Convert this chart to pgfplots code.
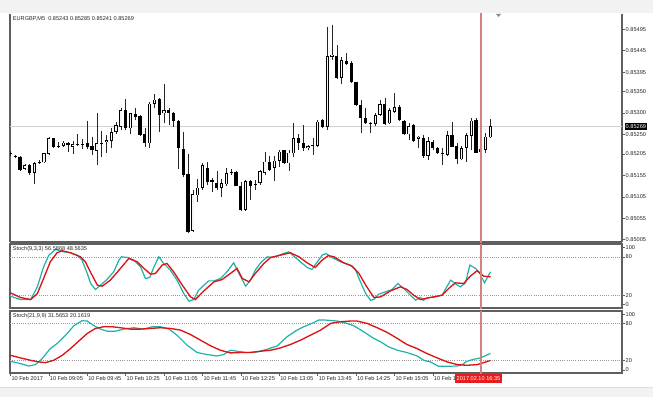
\documentclass[border=0pt]{standalone}
\usepackage{fontspec}
\setmainfont{Liberation Sans}
\usepackage{pgfplots}
\usepackage{pgfplotstable}
\pgfplotsset{compat=1.18}
\definecolor{stK}{RGB}{32,178,170}
\definecolor{stD}{RGB}{220,20,20}
\definecolor{vline}{RGB}{210,130,130}
\definecolor{frame}{RGB}{95,95,95}
\definecolor{tbox}{RGB}{232,28,28}

\pgfplotstableread{
i O H L C
0 0.85205 0.85212 0.85199 0.85207
1 0.85198 0.85202 0.85195 0.85200
2 0.85198 0.85200 0.85165 0.85167
3 0.85170 0.85181 0.85167 0.85178
4 0.85178 0.85181 0.85156 0.85160
5 0.85161 0.85185 0.85134 0.85183
6 0.85183 0.85191 0.85181 0.85185
7 0.85185 0.85208 0.85183 0.85206
8 0.85205 0.85245 0.85202 0.85242
9 0.85241 0.85242 0.85219 0.85222
10 0.85222 0.85233 0.85219 0.85224
11 0.85223 0.85235 0.85222 0.85231
12 0.85231 0.85233 0.85210 0.85225
13 0.85222 0.85235 0.85204 0.85228
14 0.85228 0.85250 0.85223 0.85226
15 0.85226 0.85239 0.85216 0.85228
16 0.85230 0.85282 0.85216 0.85222
17 0.85224 0.85245 0.85202 0.85213
18 0.85212 0.85299 0.85178 0.85229
19 0.85229 0.85258 0.85198 0.85231
20 0.85232 0.85249 0.85208 0.85237
21 0.85235 0.85264 0.85218 0.85256
22 0.85256 0.85280 0.85252 0.85272
23 0.85268 0.85311 0.85260 0.85307
24 0.85307 0.85332 0.85260 0.85264
25 0.85264 0.85300 0.85252 0.85299
26 0.85297 0.85312 0.85283 0.85290
27 0.85294 0.85295 0.85247 0.85249
28 0.85250 0.85264 0.85222 0.85231
29 0.85229 0.85326 0.85219 0.85322
30 0.85322 0.85343 0.85311 0.85331
31 0.85332 0.85334 0.85256 0.85295
32 0.85299 0.85367 0.85276 0.85307
33 0.85308 0.85311 0.85272 0.85300
34 0.85300 0.85303 0.85268 0.85281
35 0.85281 0.85283 0.85169 0.85219
36 0.85216 0.85255 0.85152 0.85156
37 0.85157 0.85204 0.85020 0.85024
38 0.85026 0.85121 0.85023 0.85111
39 0.85108 0.85146 0.85094 0.85126
40 0.85125 0.85183 0.85121 0.85178
41 0.85173 0.85187 0.85133 0.85140
42 0.85140 0.85148 0.85117 0.85143
43 0.85136 0.85166 0.85121 0.85125
44 0.85125 0.85146 0.85105 0.85136
45 0.85134 0.85171 0.85131 0.85160
46 0.85160 0.85169 0.85156 0.85162
47 0.85163 0.85166 0.85129 0.85130
48 0.85130 0.85140 0.85071 0.85074
49 0.85074 0.85144 0.85072 0.85142
50 0.85141 0.85144 0.85098 0.85131
51 0.85132 0.85144 0.85121 0.85135
52 0.85137 0.85168 0.85133 0.85164
53 0.85160 0.85210 0.85156 0.85187
54 0.85187 0.85199 0.85164 0.85168
55 0.85172 0.85199 0.85141 0.85189
56 0.85189 0.85214 0.85175 0.85210
57 0.85213 0.85214 0.85182 0.85183
58 0.85183 0.85213 0.85166 0.85208
59 0.85206 0.85276 0.85197 0.85241
60 0.85241 0.85250 0.85214 0.85230
61 0.85230 0.85272 0.85212 0.85218
62 0.85218 0.85226 0.85214 0.85223
63 0.85223 0.85241 0.85202 0.85225
64 0.85223 0.85284 0.85222 0.85280
65 0.85284 0.85285 0.85264 0.85267
66 0.85267 0.85500 0.85261 0.85432
67 0.85430 0.85504 0.85423 0.85436
68 0.85432 0.85458 0.85378 0.85381
69 0.85381 0.85431 0.85367 0.85423
70 0.85422 0.85439 0.85412 0.85415
71 0.85417 0.85422 0.85369 0.85371
72 0.85371 0.85373 0.85316 0.85319
73 0.85319 0.85330 0.85253 0.85289
74 0.85289 0.85311 0.85274 0.85276
75 0.85276 0.85280 0.85254 0.85274
76 0.85274 0.85299 0.85270 0.85295
77 0.85295 0.85330 0.85294 0.85321
78 0.85322 0.85334 0.85272 0.85274
79 0.85276 0.85312 0.85274 0.85307
80 0.85303 0.85347 0.85301 0.85313
81 0.85315 0.85319 0.85282 0.85284
82 0.85282 0.85284 0.85249 0.85250
83 0.85250 0.85276 0.85237 0.85270
84 0.85272 0.85274 0.85233 0.85235
85 0.85240 0.85247 0.85218 0.85245
86 0.85241 0.85249 0.85195 0.85200
87 0.85200 0.85245 0.85191 0.85235
88 0.85233 0.85237 0.85214 0.85218
89 0.85218 0.85222 0.85205 0.85206
90 0.85206 0.85218 0.85179 0.85208
91 0.85202 0.85257 0.85199 0.85249
92 0.85249 0.85278 0.85220 0.85222
93 0.85223 0.85230 0.85182 0.85192
94 0.85192 0.85223 0.85191 0.85218
95 0.85218 0.85254 0.85187 0.85249
96 0.85247 0.85288 0.85213 0.85282
97 0.85284 0.85288 0.85206 0.85208
98 0.85210 0.85218 0.85195 0.85216
99 0.85214 0.85253 0.85206 0.85245
100 0.85243 0.85285 0.85241 0.85269
}\candles

\pgfplotsset{
  panel/.style={
    scale only axis, width=459pt, xmin=-0.1, xmax=127.4,
    axis line style={draw=frame, line width=0.8pt},
    tick style={draw=frame, line width=0.4pt},
    ytick pos=right, yticklabel pos=right,
    tick align=outside, major tick length=2pt,
    ticklabel style={font=\fontsize{4.2}{5}\selectfont, text=black!85},
    yticklabel style={anchor=west, inner sep=0.6pt},
    clip=true,
  },
}
\tikzset{
  lvl/.style={black!40, dash pattern=on 0.75pt off 0.9pt, line width=0.35pt},
  lab/.style={font=\fontsize{4.2}{5}\selectfont, text=black!85, inner sep=0pt, anchor=north west},
}

\begin{document}
\begin{tikzpicture}
\useasboundingbox (0,0) rectangle (489.75pt,297.75pt);
\fill[white] (0,0) rectangle (489.75pt,297.75pt);
\fill[black!5] (0,288pt) rectangle (489.75pt,297.75pt);
\fill[black!5] (0,0) rectangle (489.75pt,7.5pt);
\draw[black!12, line width=0.4pt] (0,7.5pt) -- (489.75pt,7.5pt);

% ---------------- main price panel
\begin{axis}[panel, at={(7.5pt,116.25pt)}, anchor=south west, height=171pt,
  axis x line*=bottom, axis y line*=box,
  ymin=0.849998, ymax=0.855303, xtick=\empty,
  ytick={0.85005,0.85055,0.85105,0.85155,0.85205,0.85250,0.85300,0.85350,0.85395,0.85445,0.85495},
  yticklabels={0.85005,0.85055,0.85105,0.85155,0.85205,0.85250,0.85300,0.85350,0.85395,0.85445,0.85495}]
\addplot[black!18, line width=0.5pt] coordinates {(-1,0.85269) (130,0.85269)};
% wicks
\addplot[draw=none, mark=none, error bars/.cd, y dir=plus, y explicit, error mark=none,
  error bar style={draw=black!85, line width=0.55pt}]
  table[x=i, y=L, y error plus expr={\thisrow{H}-\thisrow{L}}] {\candles};
% bodies
\addplot[draw=none, mark=none, error bars/.cd, y dir=plus, y explicit, error mark=none,
  error bar style={draw=black, line width=2.4pt}]
  table[x=i, y expr={min(\thisrow{O},\thisrow{C})}, y error plus expr={abs(\thisrow{C}-\thisrow{O})}] {\candles};
% hollow interior of rising candles
\addplot[draw=none, mark=none, error bars/.cd, y dir=plus, y explicit, error mark=none,
  error bar style={draw=black!4, line width=1.15pt}]
  table[x=i, y expr={(\thisrow{C}-\thisrow{O}>0.00004) ? (\thisrow{O}+0.000017) : 0.9},
    y error plus expr={(\thisrow{C}-\thisrow{O}>0.00004) ? (\thisrow{C}-\thisrow{O}-0.000034) : 0}] {\candles};
\addplot[vline, line width=1.1pt] coordinates {(98,0.849) (98,0.856)};
\node[lab] at ([xshift=2pt,yshift=-2pt]rel axis cs:0,1) {EURGBP,M5\ \ 0.85243 0.85285 0.85241 0.85269};
\coordinate (bid) at (axis cs:127.4,0.85269);
\end{axis}
\node[fill=black, text=white, font=\fontsize{4.2}{5}\selectfont, inner xsep=0.8pt, inner ysep=1pt, anchor=west] at ([xshift=1.8pt]bid) {0.85269};
\fill[black!45] (372pt,287.25pt) -- (375.75pt,287.25pt) -- (373.9pt,285pt) -- cycle;

% ---------------- Stoch(9,3,3)
\begin{axis}[panel, at={(7.5pt,66.75pt)}, anchor=south west, height=48pt,
  ymin=0, ymax=100, xtick=\empty,
  ytick={5.5,20,80,95}, yticklabels={0,20,80,100}]
\addplot[lvl] coordinates {(-1,80) (130,80)};
\addplot[lvl] coordinates {(-1,20) (130,20)};
\addplot[stK, line width=0.9pt] coordinates {
(0,18.4) (2.1,13.2) (4.2,13.2) (5.6,33.1) (6.9,64.4) (8.0,82.6) (9.4,91.5) (11.1,87.8) (12.5,86.3) (13.9,82.6) (14.9,74.8) (16.0,53.9) (16.7,38.3) (17.7,28.9) (18.75,35.7) (20.1,44.5) (21.5,56.5) (22.6,74.8) (23.1,80) (24.3,79) (25.7,74.8) (27.1,64.4) (28.1,46.1) (29.0,47.7) (29.9,64.4) (30.9,80) (31.9,69.6) (33.3,59.1) (34.7,43.5) (36.1,22.6) (37.2,10.6) (38.2,13.2) (39.2,27.8) (40.3,35.7) (41.3,42.4) (42.4,42.4) (43.75,46.1) (45.1,56.5) (46.5,70.6) (47.6,53.9) (49.0,34.1) (50.0,43.5) (51.0,59.1) (52.1,70.6) (53.5,80) (54.5,79) (55.6,81.1) (56.9,85.2) (58.0,87.8) (59.0,81.1) (60.4,72.2) (61.8,63.3) (62.8,60.2) (63.9,72) (65.0,83) (65.8,85) (66.7,80) (68.75,72.2) (70.8,67) (71.9,59.1) (72.9,40.9) (74.0,22.6) (75.0,12.2) (75.7,13.2) (76.7,21.6) (78.1,25.2) (79.5,28.9) (80.7,38.3) (81.9,30.5) (83.3,20) (84.4,12.2) (85.4,16.5) (86.0,12) (86.8,16) (88.5,17.4) (89.9,20) (91.7,43.5) (93.1,35.7) (93.75,33.1) (94.8,39.3) (95.7,67) (96.9,61.8) (97.6,56.5) (98.75,39.3) (100,56.6)};
\addplot[stD, line width=1pt] coordinates {
(0,23.7) (2.1,16.4) (4.2,13.2) (5.6,22.6) (6.9,46.1) (8.3,72.2) (9.7,86.3) (10.8,89.4) (12.5,86.3) (14.6,80) (15.6,72.2) (17.0,51.3) (18.1,35.7) (19.1,34.1) (20.8,43.5) (22.6,59.1) (24.65,77.4) (26.4,72.2) (27.8,61.8) (29.2,52.9) (30.2,53.9) (31.6,67) (32.6,69.6) (34.0,56.5) (35.8,35.7) (37.5,17.4) (38.5,13.2) (40.3,26.8) (42.4,40.9) (44.1,44.5) (45.8,53.9) (47.2,61.8) (48.3,46.1) (49.7,40.9) (51.0,53.9) (52.8,69.6) (54.2,79) (56.25,82.6) (58.3,86.3) (60.1,80) (61.8,70.6) (63.5,63.3) (64.8,74) (66.2,82) (67.4,80) (69.4,70.6) (71.2,65.4) (72.6,53.9) (74.0,35.7) (75.7,16.4) (77.1,17.4) (79.2,26.8) (81.25,33.1) (82.6,28.9) (84.0,20) (85.4,13.2) (87.5,16.4) (89.9,20) (91.3,30.5) (92.7,39.3) (94.4,38.3) (95.8,49.8) (97.2,58.1) (98.6,49.8) (100,48.6)};
\addplot[vline, line width=1.1pt] coordinates {(98,-10) (98,110)};
\node[lab] at ([xshift=2pt,yshift=-1.5pt]rel axis cs:0,1) {Stoch(9,3,3) 56.5868 48.5635};
\end{axis}

% ---------------- Stoch(21,9,9)
\begin{axis}[panel, at={(7.5pt,18pt)}, anchor=south west, height=46.5pt,
  ymin=0, ymax=100,
  ytick={5,20,80,95}, yticklabels={0,20,80,100},
  xtick pos=bottom, xtick={0,8,16,24,32,40,48,56,64,72,80,88},
  xticklabels={10 Feb 2017,10 Feb 09:05,10 Feb 09:45,10 Feb 10:25,10 Feb 11:05,10 Feb 11:45,10 Feb 12:25,10 Feb 13:05,10 Feb 13:45,10 Feb 14:25,10 Feb 15:05,10 Feb 15:45},
  xticklabel style={anchor=north west, inner sep=0.6pt}]
\addplot[lvl] coordinates {(-1,80) (130,80)};
\addplot[lvl] coordinates {(-1,20) (130,20)};
\addplot[stK, line width=0.9pt] coordinates {
(0,18.9) (2.1,15.1) (3.8,11.3) (5.2,13.5) (6.6,23.2) (8.3,39.4) (9.7,47.5) (11.5,61) (13.2,76.2) (14.9,84.3) (16.0,83.8) (17.4,76.2) (18.75,70.8) (20.1,67.5) (21.9,67.5) (23.6,70.8) (25.7,73) (27.8,70.8) (29.5,74.6) (31.25,74.6) (33.0,70.8) (34.7,61) (36.8,44.8) (38.9,33) (41.0,29.7) (43.1,27.5) (44.4,29.7) (45.8,36.7) (47.2,35.1) (49.3,33) (51.4,34.1) (53.5,38.4) (55.6,43.8) (57.6,58.4) (59.7,69.2) (61.1,74.6) (62.8,80) (64.2,85.4) (65.6,85.4) (68.1,83.8) (70.1,80) (71.5,76.2) (73.6,66.5) (75.7,55.7) (77.1,50.3) (78.8,42.1) (80.6,36.7) (82.6,33) (84.7,27.5) (86.1,20.5) (87.5,17.8) (89.2,10.8) (91.0,10.8) (93.1,11.3) (94.1,13.5) (95.1,18.9) (96.5,22.1) (97.9,24.3) (100,31.6)};
\addplot[stD, line width=1pt] coordinates {
(0,28.6) (2.1,24.3) (4.2,20.5) (5.9,17.8) (7.3,16.7) (9.0,20.5) (10.8,28.6) (12.5,39.4) (14.2,51.3) (16.0,63.8) (17.7,71.9) (19.4,74.6) (21.2,74.6) (22.9,73) (25.0,70.8) (27.1,70.8) (29.2,71.9) (31.25,73) (33.3,71.9) (35.4,69.2) (37.5,62.1) (39.6,52.9) (41.7,43.8) (43.75,36.7) (45.8,32.4) (47.9,33) (50.0,33) (52.1,35.1) (54.2,36.7) (56.25,40.5) (58.3,45.9) (60.4,52.9) (62.5,61) (64.6,69.2) (66.7,80) (68.75,82.7) (70.8,83.8) (72.2,83.8) (74.3,80) (76.4,73) (78.5,65.4) (80.6,55.7) (82.6,45.9) (84.7,39.4) (86.8,31.3) (88.9,24.3) (91.0,17.8) (93.1,13.5) (95.1,12.4) (97.2,13.5) (98.6,16.7) (100,20.2)};
\addplot[vline, line width=1.1pt] coordinates {(98,-10) (98,110)};
\node[lab] at ([xshift=2pt,yshift=-1.5pt]rel axis cs:0,1) {Stoch(21,9,9) 31.5653 20.1619};
\coordinate (tb) at (axis cs:98,0);
\end{axis}
\node[fill=tbox, text=white, font=\fontsize{4.2}{5}\selectfont, inner xsep=1.2pt, inner ysep=0pt, minimum height=7pt, anchor=north] at ([xshift=-1.8pt,yshift=-0.5pt]tb) {2017.02.10 16:35};
\end{tikzpicture}
\end{document}
